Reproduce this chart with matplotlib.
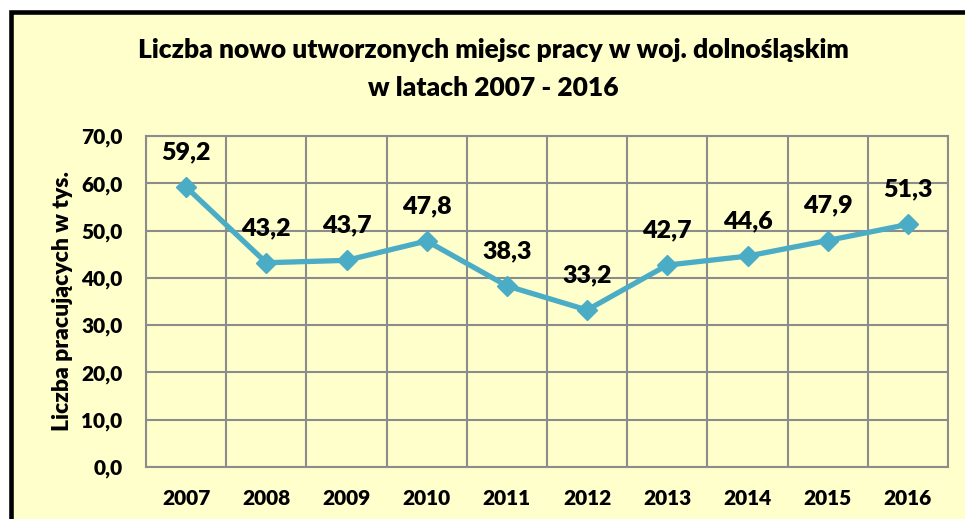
import matplotlib.pyplot as plt
from matplotlib.patches import Rectangle

years = ['2007', '2008', '2009', '2010', '2011', '2012', '2013', '2014', '2015', '2016']
jobs = [59.2, 43.2, 43.7, 47.8, 38.3, 33.2, 42.7, 44.6, 47.9, 51.3]
yticks = [0, 10, 20, 30, 40, 50, 60, 70]

plt.rcParams['font.family'] = ['Lato', 'DejaVu Sans']
plt.rcParams['font.weight'] = 'heavy'

bg = '#FFFFCC'
line_col = '#4BACC6'
grid_col = '#8C8C8C'

fig = plt.figure(figsize=(9.65, 5.19), dpi=100)
fig.patch.set_facecolor('white')

# yellow chart area with thick black frame (cut off at right and bottom)
W, H = 965.0, 519.0
fig.patches.append(Rectangle((10.5 / W, -0.2), 1.2, 1.2 - 11.5 / H,
                             transform=fig.transFigure, facecolor=bg,
                             edgecolor='black', linewidth=3.3, zorder=-1))

ax = fig.add_axes([146 / W, 1 - 467 / H, (948 - 146) / W, (467 - 136) / H])
ax.set_zorder(2)
ax.set_facecolor(bg)

x = list(range(len(years)))
ax.plot(x, jobs, color=line_col, linewidth=3.8, marker='D', markersize=10,
        markerfacecolor=line_col, markeredgecolor=line_col, zorder=3)

for xi, v in zip(x, jobs):
    ax.annotate(f'{v:.1f}'.replace('.', ','), (xi, v), xytext=(0, 25),
                textcoords='offset points', ha='center', va='center',
                fontsize=18, fontweight='heavy', color='black')

ax.set_xlim(-0.5, len(years) - 0.5)
ax.set_ylim(0, 70)
ax.set_yticks(yticks)
ax.set_yticklabels([f'{t:.1f}'.replace('.', ',') for t in yticks])
ax.set_xticks(x)
ax.set_xticklabels(years)
ax.tick_params(axis='both', length=0, labelsize=15)
ax.tick_params(axis='y', pad=17)
ax.tick_params(axis='x', pad=16)

# gridlines: horizontal at ticks, vertical between categories
for t in yticks:
    ax.axhline(t, color=grid_col, linewidth=1.5, zorder=1)
for k in range(len(years) + 1):
    ax.axvline(k - 0.5, color=grid_col, linewidth=1.5, zorder=1)
for s in ax.spines.values():
    s.set_color(grid_col)
    s.set_linewidth(1.5)

ax.set_ylabel('Liczba pracujących w tys.', fontsize=16.5, fontweight='heavy', labelpad=6)

fig.text(493 / W, 1 - 50 / H, 'Liczba nowo utworzonych miejsc pracy w woj. dolnośląskim',
         ha='center', va='center', fontsize=19, fontweight='heavy')
fig.text(493 / W, 1 - 88 / H, 'w latach 2007 - 2016',
         ha='center', va='center', fontsize=19, fontweight='heavy')

fig.savefig('out.png', dpi=100, facecolor=fig.get_facecolor())
